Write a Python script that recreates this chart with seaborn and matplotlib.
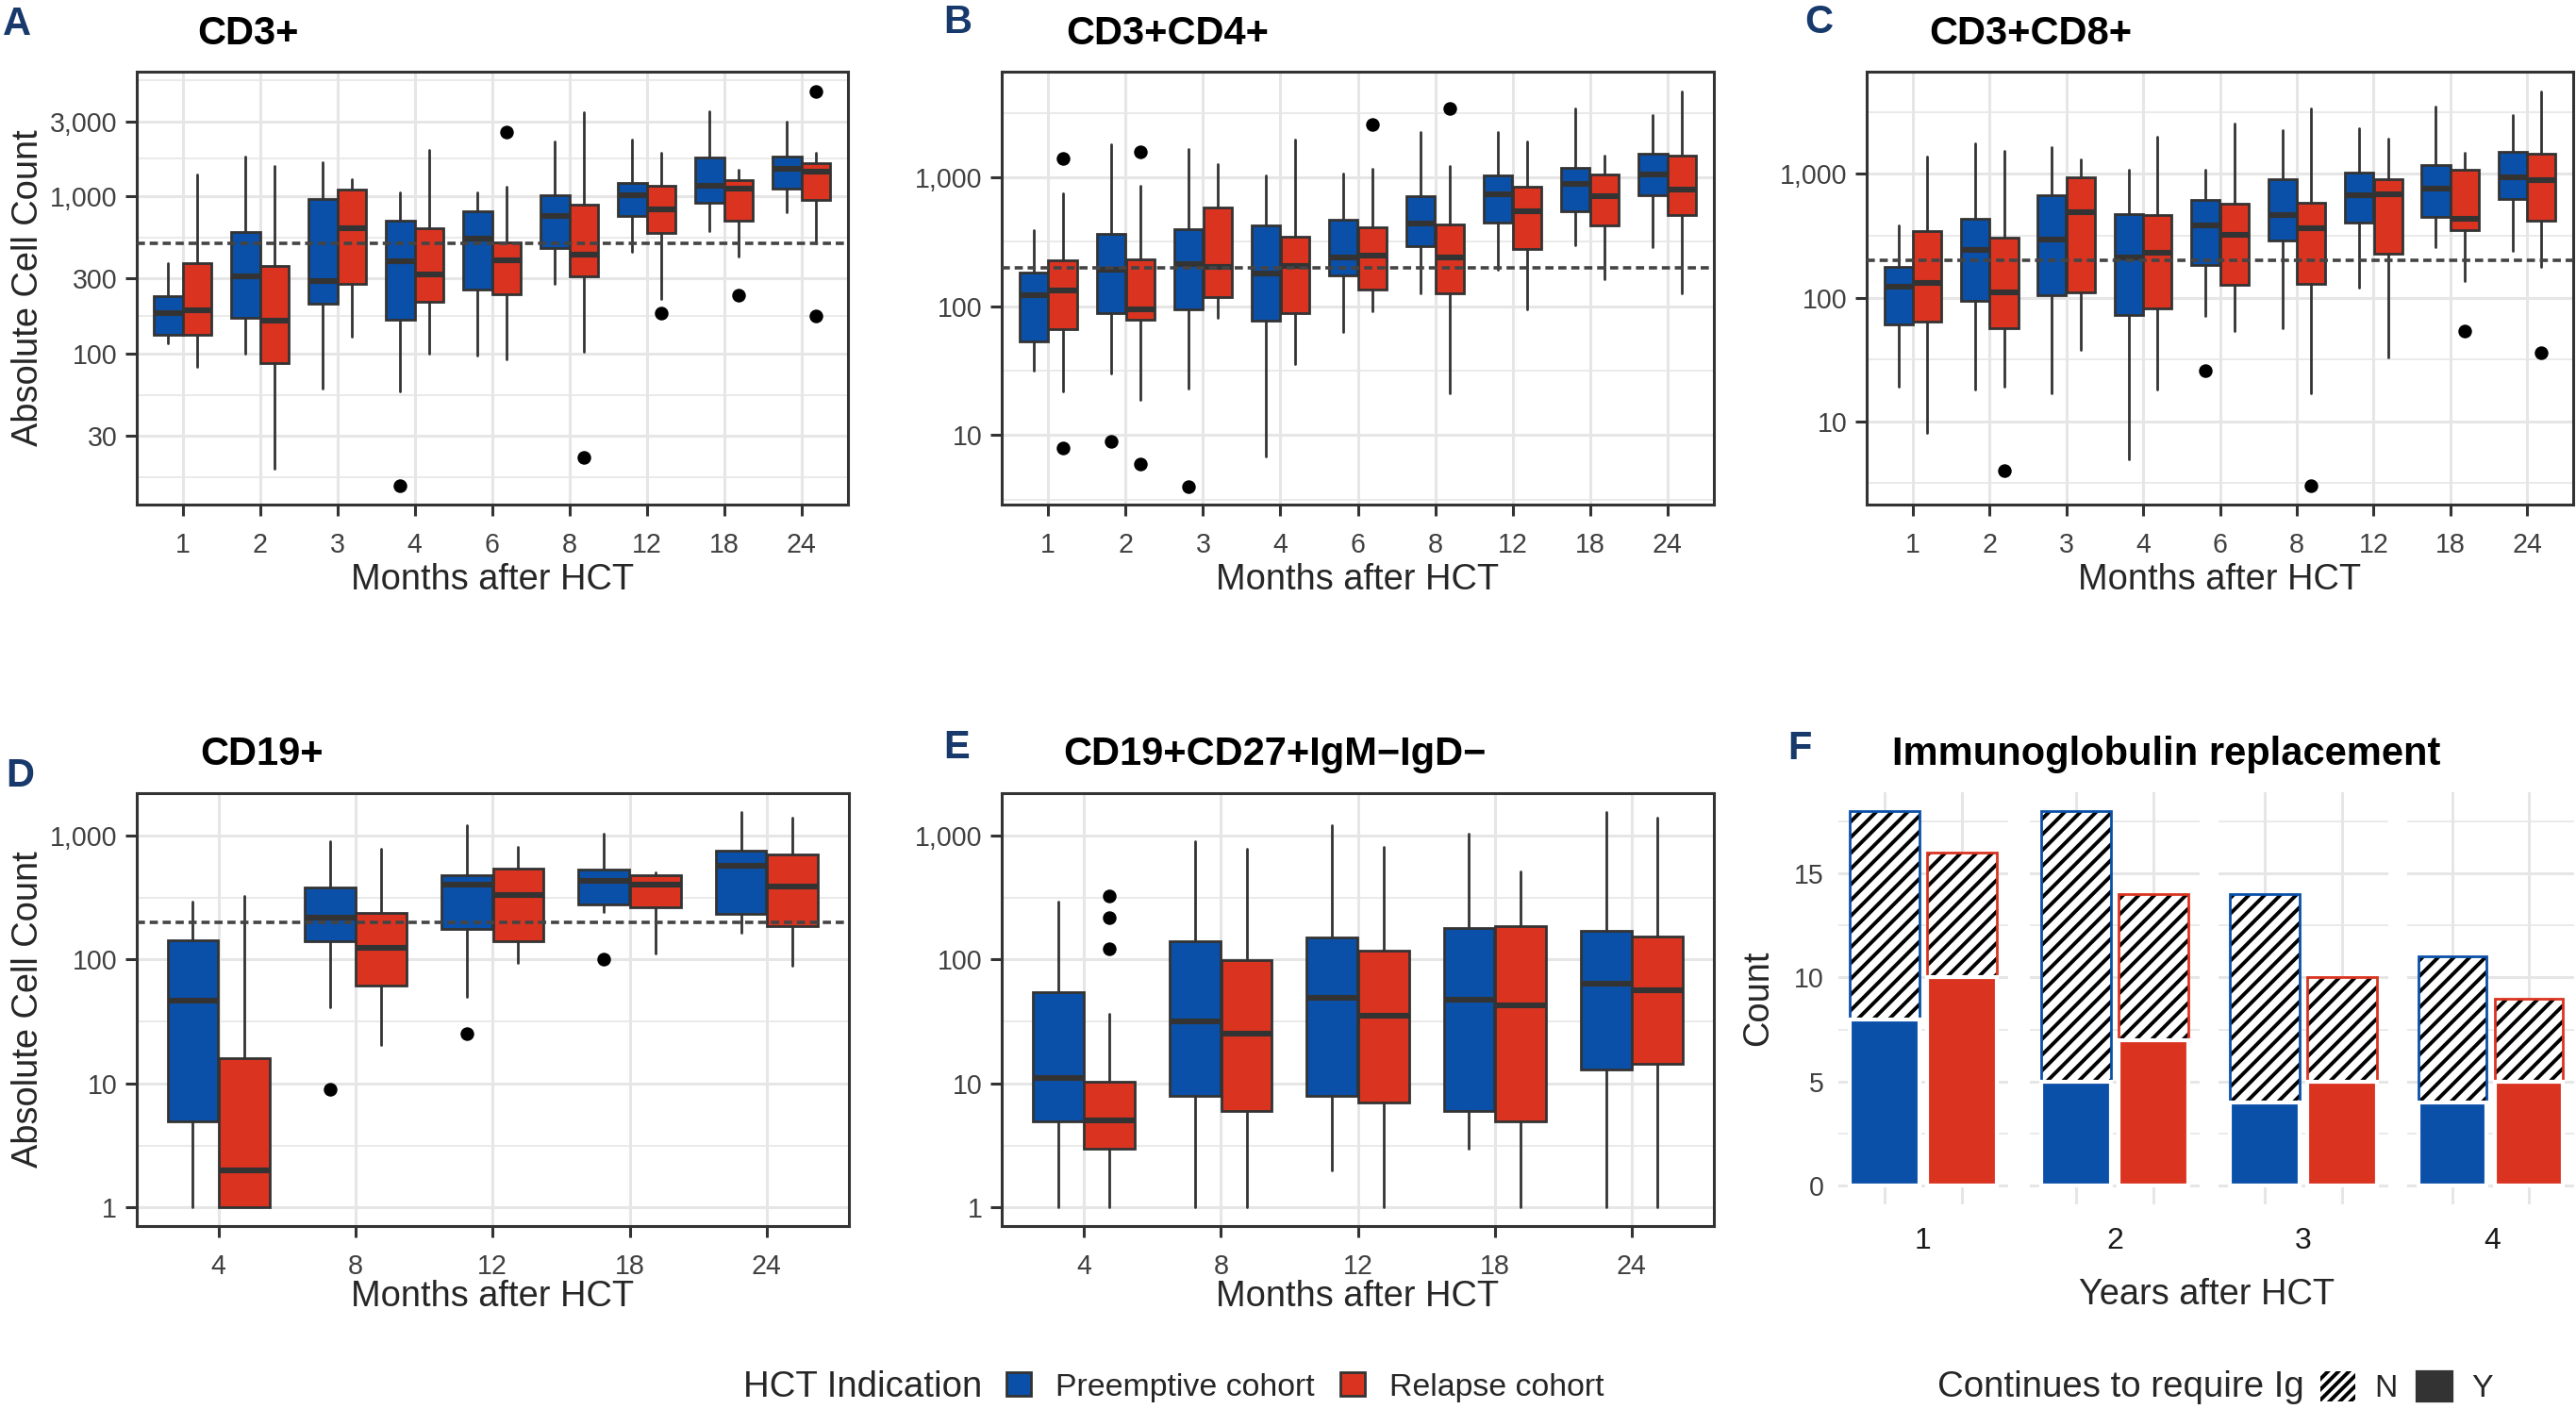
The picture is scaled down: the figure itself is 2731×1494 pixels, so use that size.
import numpy as np
import pandas as pd
import matplotlib
matplotlib.use("Agg")
import matplotlib.pyplot as plt
import matplotlib.patches as mpatches
from matplotlib.ticker import FixedLocator, FixedFormatter, NullLocator
import seaborn as sns

# ---- data ---------------------------------------------------------------
months_t = ["1", "2", "3", "4", "6", "8", "12", "18", "24"]
months_b = ["4", "8", "12", "18", "24"]

# five-number summaries: (lower whisker, Q1, median, Q3, upper whisker)
cd3_pre = [(116, 132, 182, 231, 379), (100, 170, 311, 595, 1787), (60, 209, 290, 956, 1644),
           (58, 164, 385, 705, 1064), (98, 255, 541, 802, 1064), (278, 470, 746, 1011, 2240),
           (442, 754, 1017, 1225, 2280), (602, 914, 1171, 1778, 3460), (789, 1113, 1500, 1787, 2972)]
cd3_pre_out = [[], [], [], [14.5], [], [], [], [], []]
cd3_rel = [(83, 132, 189, 375, 1372), (18.5, 87, 163, 362, 1553), (128, 278, 630, 1107, 1289),
           (100, 215, 318, 626, 1968), (92, 238, 390, 508, 1158), (103, 309, 426, 883, 3420),
           (222, 589, 830, 1171, 1892), (412, 701, 1113, 1274, 1468), (502, 950, 1427, 1625, 1892)]
cd3_rel_out = [[], [], [], [], [2550], [22], [182], [235], [4640, 174]]

cd4_pre = [(31.8, 53, 122, 184, 388), (30, 89, 192, 367, 1800), (23, 94, 212, 396, 1656),
           (6.9, 77, 179, 427, 1042), (63, 175, 239, 471, 1079), (126, 292, 440, 713, 2230),
           (192, 443, 738, 1035, 2260), (300, 545, 889, 1189, 3428), (290, 723, 1057, 1514, 3020)]
cd4_pre_out = [[], [9.0], [4.0], [], [], [], [], [], []]
cd4_rel = [(21.7, 66.6, 133, 226, 748), (18.9, 79, 94, 231, 859), (81, 117, 201, 580, 1274),
           (35.7, 88, 206, 347, 1969), (92, 136, 247, 413, 1156), (21, 126, 240, 434, 1230),
           (94, 278, 548, 847, 1902), (161, 421, 713, 1057, 1473), (127, 512, 801, 1473, 4614)]
cd4_rel_out = [[1393, 7.9], [1567, 6.0], [], [], [2559], [3428], [], [], []]

cd8_pre = [(19.1, 61, 122, 178, 384), (18, 95, 242, 434, 1778), (17, 105, 294, 673, 1655),
           (4.94, 72.3, 210, 477, 1075), (71.8, 183, 381, 613, 1075), (56.2, 288, 463, 904, 2254),
           (120, 406, 673, 1030, 2323), (255, 453, 761, 1180, 3524), (237, 627, 931, 1518, 3008)]
cd8_pre_out = [[], [], [], [], [25.9], [], [], [], []]
cd8_rel = [(8.06, 63.6, 131, 345, 1383), (19.1, 57, 110, 305, 1540), (37.9, 111, 491, 944, 1305),
           (18, 82.5, 229, 463, 1982), (54.2, 126, 323, 574, 2548), (17, 129, 362, 588, 3398),
           (32.8, 225, 682, 904, 1939), (136, 350, 431, 1075, 1485), (178, 422, 898, 1464, 4634)]
cd8_rel_out = [[], [3.98], [], [], [], [3.0], [], [53.5], [36]]

cd19_pre = [(1, 4.92, 46.8, 143, 293), (41.4, 139, 219, 383, 904), (49.5, 176, 402, 474, 1197),
            (240, 277, 432, 528, 1029), (165, 231, 567, 750, 1549)]
cd19_pre_out = [[], [8.98], [25], [100.7], []]
cd19_rel = [(1, 1, 2.0, 16.1, 324), (20.6, 61.4, 123, 235, 773), (94.4, 140, 331, 540, 807),
            (111, 261, 399, 474, 502), (89, 187, 388, 703, 1390)]
cd19_rel_out = [[], [], [], [], []]

csm_pre = [(1, 4.92, 11, 54, 293), (1, 7.95, 31.8, 140, 904), (2.0, 7.95, 48.8, 151, 1197),
           (2.98, 5.97, 47.7, 180, 1029), (1, 12.9, 63.7, 170, 1549)]
csm_pre_out = [[], [], [], [], []]
csm_rel = [(1, 2.95, 5.0, 10.4, 36.6), (1, 5.97, 25, 99.3, 773), (1, 6.98, 35, 117, 807),
           (1, 4.92, 42.8, 187, 509), (1, 14.3, 56.8, 154, 1390)]
csm_rel_out = [[326, 219, 121], [], [], [], []]

# immunoglobulin replacement counts per year (Y = still requires Ig, N = not)
ig_years = ["1", "2", "3", "4"]
cohorts = ["Preemptive cohort", "Relapse cohort"]
ig_pre_yes = [8, 5, 4, 4]
ig_pre_no = [10, 13, 10, 7]
ig_rel_yes = [10, 7, 5, 5]
ig_rel_no = [6, 7, 5, 4]

# ---- style ---------------------------------------------------------------
BLUE = "#0B50A8"
RED = "#DA3421"
LETTER = "#17396B"
EDGE = "#333333"
GRID = "#E6E6E6"
TICKTXT = "#404040"
W, H = 2731, 1494

sns.set_theme(style="white")
plt.rcParams["font.family"] = ["Liberation Sans", "DejaVu Sans"]
plt.rcParams["hatch.linewidth"] = 1.4
plt.rcParams["hatch.color"] = "black"

fig = plt.figure(figsize=(W / 200, H / 200), dpi=200)
fig.patch.set_facecolor("white")


def px_rect(left, top, right, bottom):
    return [left / W, 1 - bottom / H, (right - left) / W, (bottom - top) / H]


def minor_breaks(majors, lo, hi):
    lg = list(np.log10(majors))
    step = lg[1] - lg[0]
    ext = [lg[0] - step] + lg + [lg[-1] + step]
    mids = [(a + b) / 2 for a, b in zip(ext[:-1], ext[1:])]
    return [10 ** m for m in mids if np.log10(lo) < m < np.log10(hi)]


def box_panel(rect, months, pre, pre_out, rel, rel_out, majors, ylim, ref=None):
    ax = fig.add_axes(rect)
    ax.set_yscale("log")
    x = np.arange(len(months))
    for summ, outs, shift, col in [(pre, pre_out, -0.1875, BLUE), (rel, rel_out, 0.1875, RED)]:
        stats = [dict(whislo=s[0], q1=s[1], med=s[2], q3=s[3], whishi=s[4], fliers=f)
                 for s, f in zip(summ, outs)]
        ax.bxp(stats, positions=x + shift, widths=0.37, patch_artist=True, showcaps=False,
               manage_ticks=False,
               boxprops=dict(facecolor=col, edgecolor=EDGE, linewidth=1.0),
               medianprops=dict(color=EDGE, linewidth=2.2, solid_capstyle="butt"),
               whiskerprops=dict(color=EDGE, linewidth=1.0),
               flierprops=dict(marker="o", markerfacecolor="black", markeredgecolor="black",
                               markersize=4.2, linestyle="none"))
    if ref is not None:
        ax.axhline(ref, color="#444444", lw=1.3, ls=(0, (2.4, 1.4)), zorder=5)
    ax.set_xlim(-0.6, len(months) - 0.4)
    ax.set_ylim(*ylim)
    ax.set_xticks(x)
    ax.set_xticklabels(months)
    ax.yaxis.set_major_locator(FixedLocator(majors))
    ax.yaxis.set_major_formatter(FixedFormatter([f"{m:,}" for m in majors]))
    ax.yaxis.set_minor_locator(FixedLocator(minor_breaks(majors, *ylim)))
    ax.xaxis.set_minor_locator(NullLocator())
    ax.set_axisbelow(True)
    ax.grid(True, which="major", color=GRID, lw=1.1)
    ax.grid(True, which="minor", axis="y", color=GRID, lw=0.6)
    ax.tick_params(which="minor", length=0)
    ax.tick_params(axis="both", which="major", length=4.3, width=1.1, color=EDGE,
                   labelsize=10.3, labelcolor=TICKTXT, left=True, bottom=True)
    ax.tick_params(axis="x", pad=6.0)
    ax.tick_params(axis="y", pad=3)
    for sp in ax.spines.values():
        sp.set_color(EDGE)
        sp.set_linewidth(1.1)
    return ax


rect_a = px_rect(144.5, 76, 899, 535)
rect_b = px_rect(1062, 76, 1817, 535)
rect_c = px_rect(1979, 76, 2728, 535)
rect_d = px_rect(144.5, 841, 900, 1300)
rect_e = px_rect(1062, 841, 1817, 1300)

box_panel(rect_a, months_t, cd3_pre, cd3_pre_out, cd3_rel, cd3_rel_out,
          [30, 100, 300, 1000, 3000], (11, 6200), ref=500)
box_panel(rect_b, months_t, cd4_pre, cd4_pre_out, cd4_rel, cd4_rel_out,
          [10, 100, 1000], (2.9, 6600), ref=200)
box_panel(rect_c, months_t, cd8_pre, cd8_pre_out, cd8_rel, cd8_rel_out,
          [10, 100, 1000], (2.13, 6700), ref=200)
box_panel(rect_d, months_b, cd19_pre, cd19_pre_out, cd19_rel, cd19_rel_out,
          [1, 10, 100, 1000], (0.708, 2190), ref=200)
box_panel(rect_e, months_b, csm_pre, csm_pre_out, csm_rel, csm_rel_out,
          [1, 10, 100, 1000], (0.708, 2190))

# ---- panel F: faceted stacked bars ---------------------------------------
facet_left = [1949, 2152, 2352, 2552]
palette = {cohorts[0]: BLUE, cohorts[1]: RED}
for i, yr in enumerate(ig_years):
    ax = fig.add_axes(px_rect(facet_left[i], 840, min(facet_left[i] + 180, 2729), 1277))
    df = pd.DataFrame({
        "cohort": cohorts,
        "yes": [ig_pre_yes[i], ig_rel_yes[i]],
        "total": [ig_pre_yes[i] + ig_pre_no[i], ig_rel_yes[i] + ig_rel_no[i]],
    })
    # hatched N part (full height), coloured outline, then solid Y part on top
    sns.barplot(data=df, x="cohort", y="total", color="white", saturation=1, width=0.9,
                hatch="////", edgecolor="black", linewidth=0, errorbar=None, ax=ax)
    sns.barplot(data=df, x="cohort", y="total", hue="cohort", palette=palette, fill=False,
                width=0.9, linewidth=1.0, errorbar=None, legend=False, ax=ax)
    sns.barplot(data=df, x="cohort", y="yes", hue="cohort", palette=palette, saturation=1,
                width=0.9, edgecolor="white", linewidth=1.5, errorbar=None, legend=False, ax=ax)
    ax.set_xlim(-0.6, 1.6)
    ax.set_ylim(-0.9, 18.9)
    ax.set_xlabel("")
    ax.set_ylabel("")
    ax.set_xticks([0, 1])
    ax.set_xticklabels([])
    ax.yaxis.set_major_locator(FixedLocator([0, 5, 10, 15]))
    ax.yaxis.set_minor_locator(FixedLocator([2.5, 7.5, 12.5, 17.5]))
    if i > 0:
        ax.set_yticklabels([])
    ax.set_axisbelow(True)
    ax.grid(True, which="major", color=GRID, lw=1.1)
    ax.grid(True, which="minor", axis="y", color=GRID, lw=0.6)
    ax.tick_params(which="both", length=0)
    ax.tick_params(axis="y", labelsize=10.3, labelcolor=TICKTXT, pad=5.4)
    for sp in ax.spines.values():
        sp.set_visible(False)
    # facet strip label under the panel
    fig.text((facet_left[i] + 90) / W, 1 - 1324 / H, yr, ha="center", va="baseline",
             fontsize=11.5, color="#1a1a1a")

# ---- text ----------------------------------------------------------------
letters = [("A", 3, 37), ("B", 1000, 35), ("C", 1913, 35), ("D", 6, 834), ("E", 1000, 804), ("F", 1895, 805)]
for t, x, y in letters:
    fig.text(x / W, 1 - y / H, t, fontsize=15, fontweight="bold", color=LETTER, va="baseline")

titles = [("CD3+", 209, 47), ("CD3+CD4+", 1130, 47), ("CD3+CD8+", 2045, 47),
          ("CD19+", 212, 811), ("CD19+CD27+IgM\u2212IgD\u2212", 1127, 811),
          ("Immunoglobulin replacement", 2006, 811)]
for t, x, y in titles:
    fig.text(x / W, 1 - y / H, t, fontsize=15, fontweight="bold", color="black", va="baseline")

for r in (rect_a, rect_b, rect_c):
    fig.text(r[0] + r[2] / 2, 1 - 625 / H, "Months after HCT", ha="center", va="baseline", fontsize=13.7)
for r in (rect_d, rect_e):
    fig.text(r[0] + r[2] / 2, 1 - 1385 / H, "Months after HCT", ha="center", va="baseline", fontsize=13.7)
fig.text(2340 / W, 1 - 1383 / H, "Years after HCT", ha="center", va="baseline", fontsize=13.7)

for r in (rect_a, rect_d):
    fig.text(30 / W, r[1] + r[3] / 2, "Absolute Cell Count", rotation=90,
             ha="center", va="center", fontsize=13.7)
fig.text(1864 / W, 1 - 1058 / H, "Count", rotation=90, ha="center", va="center", fontsize=13.7)

# ---- legends -------------------------------------------------------------
leg_y = 1 - 1471 / H
fig.text(788 / W, leg_y, "HCT Indication", ha="left", va="center", fontsize=13.8)
h1 = [mpatches.Patch(facecolor=BLUE, edgecolor=EDGE, lw=1.0),
      mpatches.Patch(facecolor=RED, edgecolor=EDGE, lw=1.0)]
fig.legend(h1, cohorts, loc="center left", bbox_to_anchor=(1067 / W, leg_y), ncol=2,
           frameon=False, fontsize=12.2, handlelength=0.77, handleheight=0.75,
           handletextpad=0.77, columnspacing=0.8, borderpad=0, borderaxespad=0)

fig.text(2054 / W, leg_y, "Continues to require Ig", ha="left", va="center", fontsize=13.8)
h2 = [mpatches.Patch(facecolor="white", edgecolor="black", hatch="//////", lw=0),
      mpatches.Patch(facecolor=EDGE, edgecolor=EDGE, lw=0.8)]
fig.legend(h2, ["N", "Y"], loc="center left", bbox_to_anchor=(2460 / W, leg_y), ncol=2,
           frameon=False, fontsize=12.2, handlelength=1.1, handleheight=1.1,
           handletextpad=0.6, columnspacing=0.6, borderpad=0, borderaxespad=0)

fig.savefig("out.png", dpi=200, facecolor="white")
